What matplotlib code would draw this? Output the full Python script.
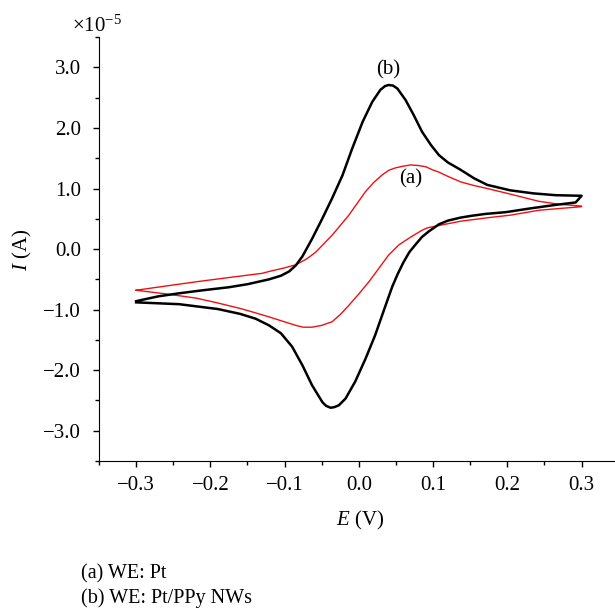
import matplotlib
matplotlib.use('Agg')
import matplotlib.pyplot as plt
from matplotlib.ticker import MultipleLocator, FuncFormatter

plt.rcParams['font.family'] = ['Liberation Serif', 'DejaVu Serif']
plt.rcParams['mathtext.fontset'] = 'custom'
plt.rcParams['mathtext.rm'] = 'Liberation Serif'
plt.rcParams['mathtext.it'] = 'Liberation Serif:italic'

# current in units of 1e-5 A, potential in V
# (b) Pt/PPy NWs - forward and reverse sweep
b_fwd_E = [-0.300, -0.270, -0.242, -0.210, -0.175, -0.150, -0.121, -0.105, -0.094, -0.085,
           -0.076, -0.063, -0.049, -0.036, -0.022, -0.009, 0.005, 0.018, 0.029, 0.035,
           0.040, 0.046, 0.052, 0.063, 0.074, 0.085, 0.097, 0.108, 0.120, 0.137,
           0.155, 0.173, 0.204, 0.235, 0.265, 0.300]
b_fwd_I = [-0.86, -0.78, -0.73, -0.68, -0.63, -0.58, -0.50, -0.44, -0.37, -0.27,
           -0.12, 0.17, 0.51, 0.84, 1.22, 1.66, 2.10, 2.43, 2.63, 2.69,
           2.71, 2.70, 2.65, 2.46, 2.21, 1.94, 1.72, 1.55, 1.43, 1.31,
           1.17, 1.06, 0.97, 0.92, 0.89, 0.88]
b_rev_E = [0.300, 0.292, 0.265, 0.230, 0.198, 0.170, 0.152, 0.137, 0.120, 0.108,
           0.094, 0.085, 0.076, 0.068, 0.060, 0.052, 0.045, 0.036, 0.022, 0.009,
           -0.005, -0.018, -0.027, -0.033, -0.038, -0.044, -0.049, -0.063, -0.076, -0.090,
           -0.105, -0.121, -0.139, -0.160, -0.190, -0.242, -0.300]
b_rev_I = [0.88, 0.77, 0.73, 0.67, 0.61, 0.58, 0.55, 0.52, 0.47, 0.41,
           0.29, 0.20, 0.07, -0.05, -0.22, -0.42, -0.62, -0.93, -1.42, -1.81,
           -2.19, -2.47, -2.58, -2.61, -2.62, -2.59, -2.53, -2.25, -1.92, -1.61,
           -1.39, -1.26, -1.15, -1.07, -0.99, -0.91, -0.88]

# (a) Pt
a_fwd_E = [-0.300, -0.260, -0.219, -0.175, -0.130, -0.121, -0.100, -0.085, -0.070, -0.058,
           -0.047, -0.036, -0.025, -0.0135, -0.002, 0.009, 0.020, 0.031, 0.040, 0.049,
           0.060, 0.070, 0.080, 0.090, 0.101, 0.108, 0.120, 0.137, 0.155, 0.173,
           0.200, 0.242, 0.270, 0.300]
a_fwd_I = [-0.68, -0.61, -0.54, -0.47, -0.40, -0.37, -0.31, -0.26, -0.16, -0.05,
           0.09, 0.23, 0.39, 0.56, 0.76, 0.95, 1.10, 1.22, 1.30, 1.34,
           1.37, 1.39, 1.38, 1.36, 1.30, 1.27, 1.20, 1.11, 1.05, 1.00,
           0.92, 0.79, 0.74, 0.71]
a_rev_E = [0.300, 0.270, 0.242, 0.204, 0.175, 0.137, 0.108, 0.092, 0.085, 0.070,
           0.054, 0.040, 0.025, 0.0135, 0.000, -0.0135, -0.025, -0.036, -0.050, -0.063,
           -0.075, -0.085, -0.103, -0.121, -0.140, -0.160, -0.190, -0.219, -0.260, -0.300]
a_rev_I = [0.70, 0.67, 0.64, 0.56, 0.52, 0.46, 0.39, 0.35, 0.31, 0.20,
           0.07, -0.10, -0.35, -0.54, -0.74, -0.93, -1.08, -1.20, -1.26, -1.29,
           -1.29, -1.26, -1.19, -1.12, -1.05, -0.98, -0.89, -0.81, -0.74, -0.68]

fig = plt.figure(figsize=(6.15, 6.09), dpi=100)
ax = fig.add_axes([0.161, 0.243, 0.839, 0.696])

ax.plot(a_fwd_E + a_rev_E, a_fwd_I + a_rev_I, color='#f01010', lw=1.0)
ax.plot(b_fwd_E + b_rev_E, b_fwd_I + b_rev_I, color='black', lw=1.8)

ax.text(0.039, 2.96, '(b)', ha='center', va='center', fontsize=15)
ax.text(0.070, 1.16, '(a)', ha='center', va='center', fontsize=15)

ax.set_xlim(-0.35, 0.345)
ax.set_ylim(-3.5, 3.5)
ax.spines['top'].set_visible(False)
ax.spines['right'].set_visible(False)

ax.xaxis.set_major_locator(MultipleLocator(0.1))
ax.xaxis.set_minor_locator(MultipleLocator(0.05))
ax.yaxis.set_major_locator(MultipleLocator(1.0))
ax.yaxis.set_minor_locator(MultipleLocator(0.5))
fmt = FuncFormatter(lambda v, p: ('%.1f' % v).replace('-', '\u2212') if abs(v) > 1e-9 else '0.0')
ax.xaxis.set_major_formatter(fmt)
ax.yaxis.set_major_formatter(fmt)
ax.tick_params(which='major', direction='out', length=4, width=1, labelsize=15)
ax.tick_params(which='minor', direction='out', length=3, width=1)
ax.tick_params(axis='x', which='major', pad=7)
ax.tick_params(axis='y', which='major', pad=9)

fig.text(72 / 615, 1 - 26 / 609, r'$\times10^{-5}$', ha='left', va='center', fontsize=15)
fig.text(22 / 615, 1 - 250 / 609, r'$I$ (A)', rotation=90, ha='center', va='center', fontsize=15)
fig.text(360 / 615, 1 - 520 / 609, r'$E$ (V)', ha='center', va='center', fontsize=15)
fig.text(81 / 615, 1 - 574 / 609, '(a) WE: Pt', ha='left', va='center', fontsize=14.5)
fig.text(81 / 615, 1 - 598 / 609, '(b) WE: Pt/PPy NWs', ha='left', va='center', fontsize=14.5)

fig.savefig('out.png', dpi=100)
